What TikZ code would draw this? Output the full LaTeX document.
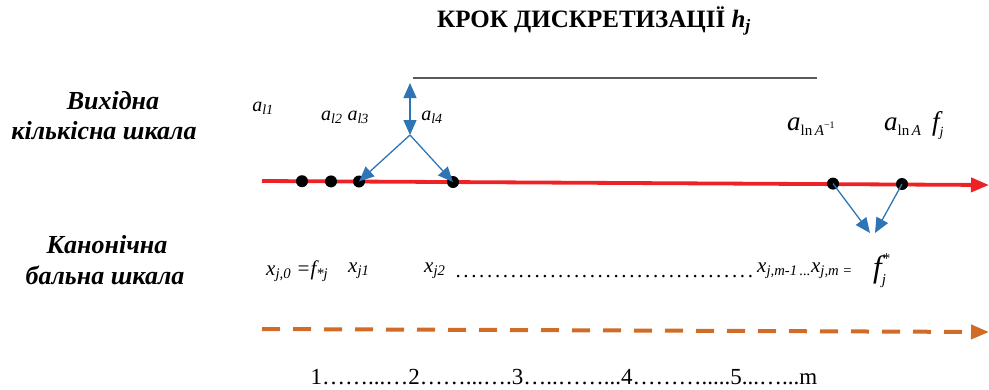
\documentclass[tikz,border=0pt]{standalone}
\usepackage{fontspec}
\setmainfont{Liberation Serif}
\usetikzlibrary{arrows.meta}
\definecolor{myred}{RGB}{237,34,36}
\definecolor{myblue}{RGB}{46,117,182}
\definecolor{myorange}{RGB}{208,108,40}
\definecolor{mygray}{RGB}{90,90,90}
\newcommand{\ssb}[1]{\textsubscript{#1}}
\newcommand{\dotsrow}[1]{\hbox to #1{\leaders\hbox to 7.9pt{\hss.\hss}\hfill}}
\tikzset{
  lbl/.style={font=\fontsize{26}{30}\selectfont\bfseries\itshape, inner sep=0pt},
  ital/.style={font=\fontsize{20}{22}\selectfont\itshape, inner sep=0pt},
  xlab/.style={font=\fontsize{21}{24}\selectfont\itshape, inner sep=0pt, anchor=west},
  dot/.style={circle, fill=black, inner sep=0pt, minimum size=12pt},
  bluearr/.style={myblue, line width=1.3pt, -{Triangle[length=15pt,width=13pt]}},
}
\begin{document}
\begin{tikzpicture}[x=1pt,y=-1pt]
\useasboundingbox (0,0) rectangle (989,389);
% title
\node (title) at (594,21) {\fontsize{25}{28}\selectfont\bfseries КРОК ДИСКРЕТИЗАЦІЇ \textit{h}\ssb{\textit{j}}};
% gray line
\coordinate (g1) at (413,78);
\coordinate (g2) at (817,78);
\draw[mygray, line width=1.3pt] (g1) -- (g2);
% left labels
\node[lbl] (vyh1) at (113,101) {Вихідна};
\node[lbl] (vyh2) at (104,131) {кількісна шкала};
\node[lbl] (kan1) at (107,245) {Канонічна};
\node[lbl] (kan2) at (105,275) {бальна шкала};
% a labels
\node[ital] (a1) at (263,108) {a\ssb{l1}};
\node[ital] (a23) at (345,117) {a\ssb{l2} a\ssb{l3}};
\node[ital] (a4) at (432,117) {a\ssb{l4}};
\node[font=\fontsize{27}{30}\selectfont\itshape, inner sep=0pt, anchor=base west] (aA1) at (787,130) {a\raisebox{-5pt}{\fontsize{15}{16}\selectfont\upshape ln\,\textit{A}\raisebox{7pt}{\fontsize{10}{11}\selectfont\upshape \textminus1}}};
\node[font=\fontsize{27}{30}\selectfont\itshape, inner sep=0pt, anchor=base west] (aA) at (884,130) {a\raisebox{-5pt}{\fontsize{15}{16}\selectfont\upshape ln\,\textit{A}}\hspace{11pt}f\raisebox{-6pt}{\fontsize{14}{15}\selectfont j}};
% red axis
\coordinate (r1) at (262,181);
\coordinate (r2) at (989,185);
\draw[myred, line width=3.8pt, -{Triangle[length=18pt,width=14pt]}] (r1) -- (r2);
% dots
\node[dot] (d1) at (302,181.2) {};
\node[dot] (d2) at (331,181.4) {};
\node[dot] (d3) at (359,181.5) {};
\node[dot] (d4) at (453,182) {};
\node[dot] (d5) at (833,183.6) {};
\node[dot] (d6) at (902,184) {};
% blue arrows
\coordinate (vtop) at (410,83);
\coordinate (vbot) at (410,135);
\draw[myblue, line width=1.3pt, {Triangle[length=15pt,width=13pt]}-{Triangle[length=15pt,width=13pt]}] (vtop) -- (vbot);
\draw[bluearr] (vbot) -- (d3.center);
\draw[bluearr] (vbot) -- (d4.center);
\coordinate (m1) at (870,233);
\coordinate (m2) at (875,233);
\draw[bluearr] (d5.center) -- (m1);
\draw[bluearr] (d6.center) -- (m2);
% x row
\node[xlab] (x0) at (266,271) {x\ssb{j,0} =f\ssb{*j}};
\node[xlab] (x1) at (348,271) {x\ssb{j1}};
\node[xlab] (x2) at (424,271) {x\ssb{j2}};
\node[xlab, anchor=base west] (dts) at (454,277) {\upshape\dotsrow{303pt}};
\node[xlab] (xm1) at (757,271) {x\ssb{j,m-1\,...}x\ssb{j,m = }};
\node[font=\fontsize{31}{34}\selectfont\itshape, inner sep=0pt, anchor=base west] (fj) at (873,277) {f\rlap{\raisebox{14pt}{\fontsize{15}{16}\selectfont\upshape\hspace{1pt}*}}\raisebox{-7pt}{\fontsize{15}{16}\selectfont j}};
% orange dashed
\coordinate (o1) at (262,329);
\coordinate (o2) at (989,332);
\draw[myorange, line width=4pt, dash pattern=on 18pt off 13pt, -{Triangle[length=18pt,width=14pt]}] (o1) -- (o2);
% bottom numbers
\node[font=\fontsize{23}{26}\selectfont, inner sep=0pt] (nums) at (564,377) {1……...…2……...….3…..……...4……….....5...…...m};
\end{tikzpicture}
\end{document}
